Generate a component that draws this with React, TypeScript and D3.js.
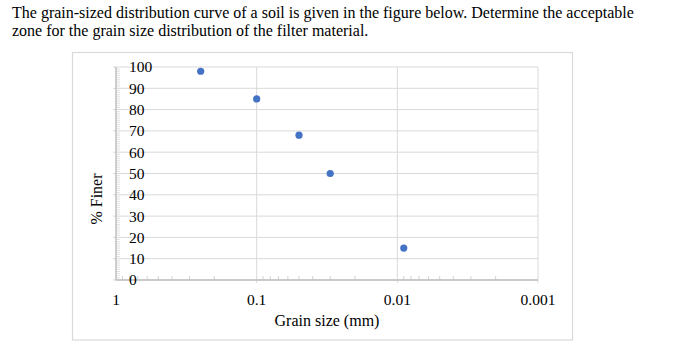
import React from 'react'
import * as d3 from 'd3'

// soil gradation readings
const grainSizes = [0.25, 0.1, 0.05, 0.03, 0.009]
const percentFiner = [98, 85, 68, 50, 15]

const yTicks = [0, 10, 20, 30, 40, 50, 60, 70, 80, 90, 100]
const xTicks = [1, 0.1, 0.01, 0.001]
const xTickLabels = ['1', '0.1', '0.01', '0.001']

const titleLines = [
  'The grain-sized distribution curve of a soil is given in the figure below. Determine the acceptable',
  'zone for the grain size distribution of the filter material.',
]

const font = "'Liberation Serif', 'Times New Roman', serif"

const App = () => {
  const width = 673
  const height = 353
  const plot = { left: 116, right: 538, top: 67, bottom: 280 }

  const x = d3.scaleLog().domain([1, 0.001]).range([plot.left, plot.right])
  const y = d3.scaleLinear().domain([0, 100]).range([plot.bottom, plot.top])

  // minor log ticks between the decades
  const minorX: number[] = []
  for (let d = 1; d > 0.001; d /= 10) {
    for (let k = 2; k <= 9; k++) minorX.push((d / 10) * k)
  }
  const minorY = d3.range(0, 101, 1).filter(v => v % 10 !== 0)

  const points = grainSizes.map((g, i) => ({ g, p: percentFiner[i] }))

  return (
    <svg
      width={width}
      height={height}
      style={{ position: 'absolute', left: 0, top: 0, background: '#fff', fontFamily: font }}
    >
      {titleLines.map((t, i) => (
        <text key={i} x={12} y={17.5 + i * 18.5} fontSize={16} fill="#000" style={{ fontFamily: font }}>
          {t}
        </text>
      ))}

      <rect x={72.5} y={52.5} width={500} height={287.5} fill="none" stroke="#d9d9d9" strokeWidth={1.2} />

      {/* horizontal gridlines */}
      {yTicks.map(v => (
        <line key={'gy' + v} x1={plot.left - 3} x2={plot.right} y1={y(v)} y2={y(v)} stroke="#d9d9d9" strokeWidth={1} />
      ))}
      {/* vertical gridlines */}
      {xTicks.slice(1).map(v => (
        <line key={'gx' + v} x1={x(v)} x2={x(v)} y1={plot.top} y2={plot.bottom + 3} stroke="#d9d9d9" strokeWidth={1} />
      ))}

      {/* minor ticks */}
      {minorY.map(v => (
        <line key={'my' + v} x1={plot.left} x2={plot.left + 4} y1={y(v)} y2={y(v)} stroke="#d4d4d4" strokeWidth={0.7} />
      ))}
      {minorX.map(v => (
        <line key={'mx' + v} x1={x(v)} x2={x(v)} y1={plot.bottom} y2={plot.bottom - 4} stroke="#c8c8c8" strokeWidth={0.8} />
      ))}

      {/* axes */}
      <line x1={plot.left} x2={plot.left} y1={plot.top} y2={plot.bottom} stroke="#bfbfbf" strokeWidth={1.5} />
      <line x1={plot.left} x2={plot.right} y1={plot.bottom} y2={plot.bottom} stroke="#bfbfbf" strokeWidth={1.5} />

      {yTicks.map(v => (
        <text key={'ly' + v} x={129} y={y(v)} dy="0.35em" fontSize={15.5} fill="#000" style={{ fontFamily: font }}>
          {v}
        </text>
      ))}
      {xTicks.map((v, i) => (
        <text key={'lx' + v} x={x(v)} y={305} textAnchor="middle" fontSize={15.5} fill="#000" style={{ fontFamily: font }}>
          {xTickLabels[i]}
        </text>
      ))}

      <text x={(plot.left + plot.right) / 2} y={326} textAnchor="middle" fontSize={16} fill="#000" style={{ fontFamily: font }}>
        Grain size (mm)
      </text>
      <text transform="translate(102,199) rotate(-90)" textAnchor="middle" fontSize={16} fill="#000" style={{ fontFamily: font }}>
        % Finer
      </text>

      {points.map((d, i) => (
        <circle key={i} cx={x(d.g)} cy={y(d.p)} r={3.6} fill="#4472c4" />
      ))}
    </svg>
  )
}

export default App
